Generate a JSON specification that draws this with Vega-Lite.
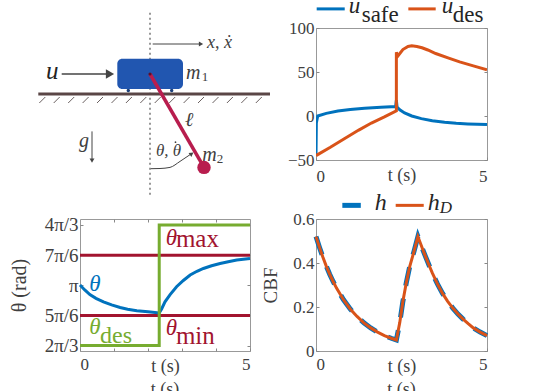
{
"$schema":"https://vega.github.io/schema/vega-lite/v6.json",
"autosize":{"type":"none"},
"padding":{"left":80,"top":28,"right":458,"bottom":363},
"background":"white",
"config":{"font":"Liberation Serif","view":{"stroke":"#999999","strokeWidth":1},
"axis":{"grid":false,"domain":false,"tickColor":"#888888","tickWidth":1,"labelFont":"Liberation Serif","labelFontSize":17,"labelColor":"#404040","titleFont":"Liberation Serif","titleColor":"#404040","titleFontWeight":"normal","titleFontSize":18,"labelPadding":5}},
"datasets":{"cbf":[{"t":0,"h":0.52},{"t":0.1,"h":0.472},{"t":0.2,"h":0.427},{"t":0.3,"h":0.386},{"t":0.4,"h":0.349},{"t":0.5,"h":0.316},{"t":0.6,"h":0.286},{"t":0.8,"h":0.234},{"t":1,"h":0.191},{"t":1.2,"h":0.157},{"t":1.4,"h":0.128},{"t":1.6,"h":0.105},{"t":1.8,"h":0.086},{"t":2,"h":0.07},{"t":2.2,"h":0.058},{"t":2.35,"h":0.05},{"t":2.45,"h":0.13},{"t":2.54,"h":0.225},{"t":2.64,"h":0.31},{"t":2.74,"h":0.384},{"t":2.87,"h":0.455},{"t":2.98,"h":0.52},{"t":3.1,"h":0.47},{"t":3.2,"h":0.43},{"t":3.3,"h":0.392},{"t":3.4,"h":0.355},{"t":3.55,"h":0.305},{"t":3.7,"h":0.262},{"t":3.85,"h":0.226},{"t":4,"h":0.195},{"t":4.15,"h":0.168},{"t":4.3,"h":0.145},{"t":4.45,"h":0.124},{"t":4.6,"h":0.105},{"t":4.8,"h":0.086},{"t":5,"h":0.07}]},
"columns":2,
"bounds":"flush",
"spacing":{"row":59,"column":66},
"concat":[
{"width":170,"height":132,"view":{"stroke":null},
"encoding":{"x":{"field":"x","type":"quantitative","scale":{"domain":[-70,100]},"axis":null},"y":{"field":"y","type":"quantitative","scale":{"domain":[-65.3,66.7]},"axis":null}},
"layer":[
{"data":{"values":[{"x":0,"y":82,"x2":0,"y2":-103}]},"mark":{"type":"rule","color":"#777777","strokeWidth":1.5,"strokeDash":[2,3]},"encoding":{"x2":{"field":"x2"},"y2":{"field":"y2"}}},
{"data":{"values":[{"x":-110.7,"y":-8.3,"x2":-104.7,"y2":-2.3},{"x":-96.3,"y":-8.3,"x2":-90.3,"y2":-2.3},{"x":-81.8,"y":-8.3,"x2":-75.8,"y2":-2.3},{"x":-67.4,"y":-8.3,"x2":-61.4,"y2":-2.3},{"x":-53,"y":-8.3,"x2":-47,"y2":-2.3},{"x":-38.5,"y":-8.3,"x2":-32.5,"y2":-2.3},{"x":-24.1,"y":-8.3,"x2":-18.1,"y2":-2.3},{"x":-9.7,"y":-8.3,"x2":-3.7,"y2":-2.3},{"x":4.7,"y":-8.3,"x2":10.7,"y2":-2.3},{"x":19.2,"y":-8.3,"x2":25.2,"y2":-2.3},{"x":33.6,"y":-8.3,"x2":39.6,"y2":-2.3},{"x":48,"y":-8.3,"x2":54,"y2":-2.3},{"x":62.5,"y":-8.3,"x2":68.5,"y2":-2.3},{"x":76.9,"y":-8.3,"x2":82.9,"y2":-2.3},{"x":91.3,"y":-8.3,"x2":97.3,"y2":-2.3},{"x":105.8,"y":-8.3,"x2":111.8,"y2":-2.3}]},"mark":{"type":"rule","color":"#6a6060","strokeWidth":1},"encoding":{"x2":{"field":"x2"},"y2":{"field":"y2"}}},
{"data":{"values":[{"x":-111.7,"y":0.7,"x2":120,"y2":0.7}]},"mark":{"type":"rule","color":"#5a4646","strokeWidth":3},"encoding":{"x2":{"field":"x2"},"y2":{"field":"y2"}}},
{"data":{"values":[{"x":-21.7,"y":4.3},{"x":21.7,"y":4.3}]},"mark":{"type":"point","filled":true,"opacity":1,"color":"#1a3f7a","size":12}},
{"data":{"values":[{"x":-32.7,"y":36,"x2":33,"y2":5.7}]},"mark":{"type":"rect","color":"#2156b0","cornerRadius":5},"encoding":{"x2":{"field":"x2"},"y2":{"field":"y2"}}},
{"data":{"values":[{"x":0,"y":20.7},{"x":54,"y":-72.7}]},"mark":{"type":"line","color":"#b81d4e","strokeWidth":3.5},"encoding":{"order":{"value":null}}},
{"data":{"values":[{"x":0,"y":20.7}]},"mark":{"type":"point","filled":true,"opacity":1,"color":"#5a0f2a","size":10}},
{"data":{"values":[{"x":54,"y":-72.7}]},"mark":{"type":"point","filled":true,"opacity":1,"color":"#b81d4e","size":180}},
{"data":{"values":[{"x":-88.3,"y":20.7,"x2":-44,"y2":20.7}]},"mark":{"type":"rule","color":"#444444","strokeWidth":1.5},"encoding":{"x2":{"field":"x2"},"y2":{"field":"y2"}}},
{"data":{"values":[{"x":-40,"y":20.7}]},"mark":{"type":"point","shape":"triangle-right","filled":true,"opacity":1,"color":"#444444","size":90}},
{"data":{"values":[{"x":2.7,"y":50.7,"x2":50,"y2":50.7}]},"mark":{"type":"rule","color":"#444444","strokeWidth":1},"encoding":{"x2":{"field":"x2"},"y2":{"field":"y2"}}},
{"data":{"values":[{"x":51,"y":50.7}]},"mark":{"type":"point","shape":"triangle-right","filled":true,"opacity":1,"color":"#444444","size":24}},
{"data":{"values":[{"x":-58,"y":-36.7,"x2":-58,"y2":-65}]},"mark":{"type":"rule","color":"#444444","strokeWidth":1},"encoding":{"x2":{"field":"x2"},"y2":{"field":"y2"}}},
{"data":{"values":[{"x":-58,"y":-66}]},"mark":{"type":"point","shape":"triangle-down","filled":true,"opacity":1,"color":"#444444","size":24}},
{"data":{"values":[{"x":0.7,"y":-74},{"x":10,"y":-73.8},{"x":20,"y":-72.7},{"x":30,"y":-66.7},{"x":40,"y":-60}]},"mark":{"type":"line","color":"#444444","strokeWidth":1,"interpolate":"monotone"},"encoding":{"order":{"value":null}}},
{"data":{"values":[{"x":41.7,"y":-59}]},"mark":{"type":"point","shape":"triangle-right","filled":true,"opacity":1,"color":"#444444","size":24,"angle":-35}},
{"data":{"values":[{"x":57,"y":47,"t":"x, ẋ"}]},"mark":{"type":"text","align":"left","baseline":"alphabetic","fontStyle":"italic","fontSize":18,"color":"#404040"},"encoding":{"text":{"field":"t"}}},
{"data":{"values":[{"x":6,"y":-61,"t":"θ, θ"}]},"mark":{"type":"text","align":"left","baseline":"alphabetic","fontStyle":"italic","fontSize":17,"color":"#404040"},"encoding":{"text":{"field":"t"}}},
{"data":{"values":[{"x":25.5,"y":-47.5}]},"mark":{"type":"point","filled":true,"opacity":1,"color":"#404040","size":3}},
{"data":{"values":[{"x":-104,"y":15.5,"t":"u"}]},"mark":{"type":"text","align":"left","baseline":"alphabetic","fontStyle":"italic","fontSize":25,"color":"#222222"},"encoding":{"text":{"field":"t"}}},
{"data":{"values":[{"x":36,"y":16,"t":"m"},{"x":52.3,"y":-66,"t":"m"},{"x":35,"y":-31.7,"t":"ℓ"},{"x":-71,"y":-52,"t":"g"}]},"mark":{"type":"text","align":"left","baseline":"alphabetic","fontStyle":"italic","fontSize":20,"color":"#404040"},"encoding":{"text":{"field":"t"}}},
{"data":{"values":[{"x":51.7,"y":13.5,"t":"1"},{"x":66.7,"y":-68.7,"t":"2"}]},"mark":{"type":"text","align":"left","baseline":"alphabetic","fontSize":13,"color":"#404040"},"encoding":{"text":{"field":"t"}}}
]},
{"width":171,"height":132,
"resolve":{"axis":{"x":"independent","y":"independent"}},
"encoding":{"x":{"field":"t","type":"quantitative","scale":{"domain":[0,5],"nice":false},"axis":null},"y":{"field":"u","type":"quantitative","scale":{"domain":[-50,100],"nice":false},"axis":null}},
"layer":[
{"data":{"values":[{"series":"u_safe","t":0,"u":-45},{"series":"u_safe","t":0.01,"u":-8},{"series":"u_safe","t":0.05,"u":0},{"series":"u_safe","t":0.3,"u":3},{"series":"u_safe","t":0.64,"u":5.7},{"series":"u_safe","t":1,"u":7.3},{"series":"u_safe","t":1.42,"u":8.9},{"series":"u_safe","t":1.9,"u":10},{"series":"u_safe","t":2.33,"u":10.8},{"series":"u_safe","t":2.35,"u":18},{"series":"u_safe","t":2.37,"u":10},{"series":"u_safe","t":2.45,"u":7},{"series":"u_safe","t":2.59,"u":3.5},{"series":"u_safe","t":2.8,"u":0},{"series":"u_safe","t":3.08,"u":-3},{"series":"u_safe","t":3.4,"u":-5.5},{"series":"u_safe","t":3.76,"u":-7.2},{"series":"u_safe","t":4.1,"u":-8.3},{"series":"u_safe","t":4.44,"u":-9},{"series":"u_safe","t":5,"u":-9.7}]},
"mark":{"type":"line","color":"#0072bd","strokeWidth":3,"clip":true},
"encoding":{"order":{"value":null},"x":{"field":"t","type":"quantitative","scale":{"domain":[0,5],"nice":false},"axis":{"values":[0,5],"tickSize":-3,"labelPadding":11,"title":"t (s)","titleX":85.5,"titleY":20,"titleBaseline":"alphabetic","titleFontSize":18,"labelExpr":"datum.label"}},"y":{"field":"u","type":"quantitative","scale":{"domain":[-50,100],"nice":false},"axis":{"values":[-50,0,50,100],"tickSize":-3,"title":null}}}},
{"data":{"values":[{"series":"u_des","t":0,"u":-45},{"series":"u_des","t":0.42,"u":-35.5},{"series":"u_des","t":0.84,"u":-25.5},{"series":"u_des","t":1.25,"u":-16},{"series":"u_des","t":1.62,"u":-8},{"series":"u_des","t":2,"u":-1},{"series":"u_des","t":2.35,"u":6},{"series":"u_des","t":2.35,"u":72.5},{"series":"u_des","t":2.38,"u":67.5},{"series":"u_des","t":2.45,"u":71},{"series":"u_des","t":2.54,"u":75.5},{"series":"u_des","t":2.69,"u":79},{"series":"u_des","t":2.8,"u":79.7},{"series":"u_des","t":2.95,"u":79},{"series":"u_des","t":3.1,"u":77.5},{"series":"u_des","t":3.27,"u":75},{"series":"u_des","t":3.5,"u":71},{"series":"u_des","t":3.86,"u":66},{"series":"u_des","t":4.2,"u":61.5},{"series":"u_des","t":4.6,"u":57},{"series":"u_des","t":5,"u":52.5}]},
"mark":{"type":"line","color":"#d95319","strokeWidth":3,"clip":true},
"encoding":{"order":{"value":null},"x":{"field":"t","type":"quantitative","scale":{"domain":[0,5],"nice":false},"axis":{"orient":"top","values":[],"labels":false,"title":null}},"y":{"field":"u","type":"quantitative","scale":{"domain":[-50,100],"nice":false},"axis":{"orient":"right","values":[-50,0,50,100],"tickSize":-3,"labels":false,"title":null}}}},
{"data":{"values":[{"t":0.02,"u":121.7},{"t":0.84,"u":121.7}]},"mark":{"type":"line","color":"#0072bd","strokeWidth":3}},
{"data":{"values":[{"t":2.7,"u":121.7},{"t":3.5,"u":121.7}]},"mark":{"type":"line","color":"#d95319","strokeWidth":3}},
{"data":{"values":[{"t":0.956,"u":116.5,"s":"u"},{"t":3.675,"u":116.5,"s":"u"}]},"mark":{"type":"text","align":"left","baseline":"alphabetic","fontStyle":"italic","fontSize":23,"color":"#262626"},"encoding":{"text":{"field":"s"}}},
{"data":{"values":[{"t":1.336,"u":106.3,"s":"safe"},{"t":3.997,"u":106.3,"s":"des"}]},"mark":{"type":"text","align":"left","baseline":"alphabetic","fontSize":23,"color":"#262626"},"encoding":{"text":{"field":"s"}}}
]},
{"width":170,"height":132,
"resolve":{"axis":{"x":"independent","y":"independent"}},
"encoding":{"x":{"field":"t","type":"quantitative","scale":{"domain":[0,5],"nice":false},"axis":null},"y":{"field":"v","type":"quantitative","scale":{"domain":[2.0,4.293],"nice":false},"axis":null}},
"layer":[
{"data":{"values":[{"t":0,"v":2.618},{"t":5,"v":2.618}]},"mark":{"type":"line","color":"#a2142f","strokeWidth":3},
"encoding":{"x":{"field":"t","type":"quantitative","scale":{"domain":[0,5],"nice":false},"axis":{"values":[0,1,2,3,4,5],"tickSize":-3,"labelPadding":8,"title":"t (s)","titleX":85,"titleY":20,"titleBaseline":"alphabetic","labelExpr":"datum.value==0||datum.value==5?datum.label:''"}},"y":{"field":"v","type":"quantitative","scale":{"domain":[2.0,4.293],"nice":false},"axis":{"values":[2.0944,2.618,3.1416,3.6652,4.1888],"tickSize":-3,"labelFontSize":19,"title":"θ (rad)","titleFontSize":20,"titleX":-51,"titleY":66,"titleAlign":"center","labelExpr":"datum.value<2.2?'2π/3':datum.value<2.7?'5π/6':datum.value<3.2?'π':datum.value<3.7?'7π/6':'4π/3'"}}}},
{"data":{"values":[{"t":0,"v":3.6652},{"t":5,"v":3.6652}]},"mark":{"type":"line","color":"#a2142f","strokeWidth":3},
"encoding":{"x":{"field":"t","type":"quantitative","scale":{"domain":[0,5],"nice":false},"axis":{"orient":"top","values":[1,2,3,4],"tickSize":-3,"labels":false,"title":null}},"y":{"field":"v","type":"quantitative","scale":{"domain":[2.0,4.293],"nice":false},"axis":{"orient":"right","values":[2.0944,2.618,3.1416,3.6652,4.1888],"tickSize":-3,"labels":false,"title":null}}}},
{"data":{"values":[{"t":0,"v":3.146},{"t":0.14,"v":3.06},{"t":0.29,"v":2.98},{"t":0.47,"v":2.915},{"t":0.69,"v":2.855},{"t":0.93,"v":2.8},{"t":1.18,"v":2.755},{"t":1.4,"v":2.725},{"t":1.67,"v":2.7},{"t":2,"v":2.68},{"t":2.33,"v":2.66},{"t":2.4,"v":2.73},{"t":2.5,"v":2.855},{"t":2.65,"v":2.98},{"t":2.84,"v":3.116},{"t":3.04,"v":3.225},{"t":3.24,"v":3.32},{"t":3.44,"v":3.385},{"t":3.63,"v":3.434},{"t":3.87,"v":3.48},{"t":4.12,"v":3.52},{"t":4.36,"v":3.55},{"t":4.61,"v":3.58},{"t":5,"v":3.605}]},"mark":{"type":"line","color":"#0072bd","strokeWidth":3},"encoding":{"order":{"value":null}}},
{"data":{"values":[{"t":0,"v":2.0944},{"t":2.33,"v":2.0944},{"t":2.33,"v":4.1888},{"t":5,"v":4.1888}]},"mark":{"type":"line","color":"#77ac30","strokeWidth":3},"encoding":{"order":{"value":null}}},
{"data":{"values":[{"t":2.52,"v":3.846,"s":"θ"},{"t":2.52,"v":2.281,"s":"θ"}]},"mark":{"type":"text","align":"left","baseline":"alphabetic","fontStyle":"italic","fontSize":23,"color":"#a2142f"},"encoding":{"text":{"field":"s"}}},
{"data":{"values":[{"t":2.82,"v":3.8,"s":"max"},{"t":2.82,"v":2.113,"s":"min"}]},"mark":{"type":"text","align":"left","baseline":"alphabetic","fontSize":25,"color":"#a2142f"},"encoding":{"text":{"field":"s"}}},
{"data":{"values":[{"t":0.274,"v":3.046,"s":"θ"}]},"mark":{"type":"text","align":"left","baseline":"alphabetic","fontStyle":"italic","fontSize":23,"color":"#0072bd"},"encoding":{"text":{"field":"s"}}},
{"data":{"values":[{"t":0.274,"v":2.293,"s":"θ"}]},"mark":{"type":"text","align":"left","baseline":"alphabetic","fontStyle":"italic","fontSize":23,"color":"#77ac30"},"encoding":{"text":{"field":"s"}}},
{"data":{"values":[{"t":0.588,"v":2.137,"s":"des"}]},"mark":{"type":"text","align":"left","baseline":"alphabetic","fontSize":24,"color":"#77ac30"},"encoding":{"text":{"field":"s"}}},
{"data":{"values":[{"t":2.5,"v":1.238,"s":"t (s)"}]},"mark":{"type":"text","align":"center","baseline":"alphabetic","fontSize":18,"color":"#404040"},"encoding":{"text":{"field":"s"}}}
]},
{"width":171,"height":132,
"resolve":{"axis":{"x":"independent","y":"independent"}},
"encoding":{"x":{"field":"t","type":"quantitative","scale":{"domain":[0,5],"nice":false},"axis":null},"y":{"field":"h","type":"quantitative","scale":{"domain":[0,0.6],"nice":false},"axis":null}},
"layer":[
{"data":{"name":"cbf"},"mark":{"type":"line","color":"#0072bd","strokeWidth":5,"strokeDash":[19,13]},
"encoding":{"order":{"value":null},"x":{"field":"t","type":"quantitative","scale":{"domain":[0,5],"nice":false},"axis":{"values":[0,5],"tickSize":-3,"labelPadding":8,"title":"t (s)","titleX":85.5,"titleY":20,"titleBaseline":"alphabetic"}},"y":{"field":"h","type":"quantitative","scale":{"domain":[0,0.6],"nice":false},"axis":{"values":[0,0.2,0.4,0.6],"tickSize":-3,"labelExpr":"datum.value==0?'0':datum.label","title":"CBF","titleX":-36,"titleY":66,"titleAlign":"center","titleFontSize":19}}}},
{"data":{"name":"cbf"},"mark":{"type":"line","color":"#d95319","strokeWidth":3},
"encoding":{"order":{"value":null},"x":{"field":"t","type":"quantitative","scale":{"domain":[0,5],"nice":false},"axis":{"orient":"top","values":[],"labels":false,"title":null}},"y":{"field":"h","type":"quantitative","scale":{"domain":[0,0.6],"nice":false},"axis":{"orient":"right","values":[0,0.2,0.4,0.6],"tickSize":-3,"labels":false,"title":null}}}},
{"data":{"values":[{"t":0.77,"h":0.662},{"t":1.31,"h":0.662}]},"mark":{"type":"line","color":"#0072bd","strokeWidth":5}},
{"data":{"values":[{"t":2.33,"h":0.662},{"t":3.15,"h":0.662}]},"mark":{"type":"line","color":"#d95319","strokeWidth":3}},
{"data":{"values":[{"t":1.716,"h":0.639,"s":"h"},{"t":3.27,"h":0.639,"s":"h"}]},"mark":{"type":"text","align":"left","baseline":"alphabetic","fontStyle":"italic","fontSize":24,"color":"#262626"},"encoding":{"text":{"field":"s"}}},
{"data":{"values":[{"t":3.62,"h":0.627,"s":"D"}]},"mark":{"type":"text","align":"left","baseline":"alphabetic","fontStyle":"italic","fontSize":17,"color":"#262626"},"encoding":{"text":{"field":"s"}}},
{"data":{"values":[{"t":2.5,"h":-0.2,"s":"t (s)"}]},"mark":{"type":"text","align":"center","baseline":"alphabetic","fontSize":18,"color":"#404040"},"encoding":{"text":{"field":"s"}}}
]}
]}
